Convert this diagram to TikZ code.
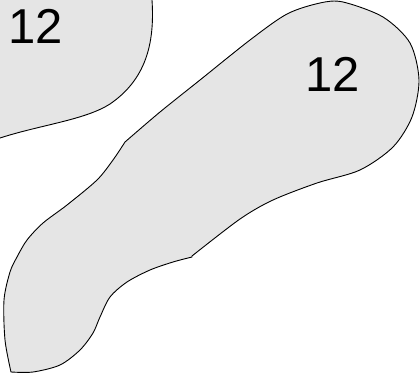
\documentclass[tikz,border=0pt]{standalone}
\usepackage{fontspec}
\setmainfont{Liberation Sans}
\definecolor{blobfill}{RGB}{229,229,229}
\tikzset{
  blob/.style={fill=blobfill, draw=black, line width=0.9pt, line join=round},
  numlabel/.style={inner sep=0pt, font=\fontsize{49}{49}\selectfont}
}
\begin{document}
\begin{tikzpicture}[x=1pt,y=-1pt]
\useasboundingbox (0,0) rectangle (420,377);
% first blob (cut by the edges)
\fill[blobfill] (-2,-2) -- (152,-2) -- (152,0) .. controls (155,45) and (145,80) .. (110,104) .. controls (85,120) and (40,125) .. (0,138) -- (-2,139) -- cycle;
\draw[line width=0.9pt] (152,-2) -- (152,0) .. controls (155,45) and (145,80) .. (110,104) .. controls (85,120) and (40,125) .. (0,138) -- (-2,139);
\node[numlabel] (a) at (36,26) {12};
% second blob
\draw[blob] plot[smooth] coordinates {(192,256) (240,219) (273,200) (317,183) (360,170) (393,147) (412,117) (419,80) (410,43) (383,17) (343,2) (320,3) (287,14) (250,40) (200,80) (160,112) (125,142)}
 -- plot[smooth] coordinates {(125,142) (113,160) (97,180) (67,205) (43,223) (27,240) (17,257) (10,272) (4,300) (5,340) (11,372)}
 -- plot[smooth] coordinates {(11,372) (33,372) (60,365) (80,350) (93,333) (100,317) (110,297) (127,282) (150,270) (173,262) (192,257)}
 -- cycle;
\node[numlabel] (b) at (333,74) {12};
\end{tikzpicture}
\end{document}
